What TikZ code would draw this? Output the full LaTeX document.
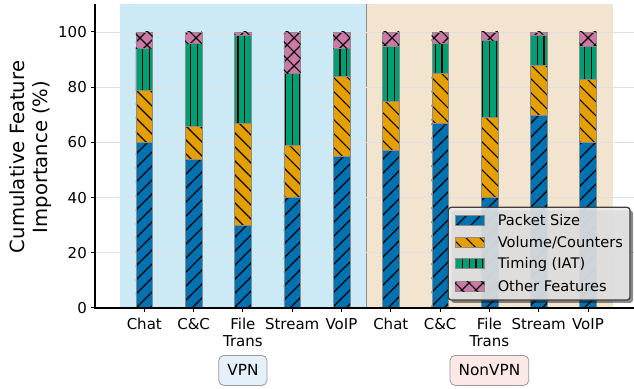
\documentclass[tikz,border=0pt]{standalone}
\usepackage{fontspec}
\setmainfont{DejaVu Sans}
\usetikzlibrary{patterns.meta,positioning}

\definecolor{psblue}{HTML}{0072B2}
\definecolor{vcorange}{HTML}{E69F00}
\definecolor{iatgreen}{HTML}{009E73}
\definecolor{otherpink}{HTML}{CC79A7}
\definecolor{vpnbg}{RGB}{204,233,246}
\definecolor{nonvpnbg}{RGB}{243,228,207}
\definecolor{vpnbox}{RGB}{229,240,251}
\definecolor{nonvpnbox}{RGB}{253,232,232}

\tikzset{
  barbase/.style={draw=black!45, line width=0.4pt, pattern color=black},
  psize/.style={barbase, preaction={fill=psblue},
    pattern={Lines[angle=45,distance=9.9pt,line width=1.1pt]}},
  vcount/.style={barbase, preaction={fill=vcorange},
    pattern={Lines[angle=-45,distance=9.9pt,line width=1.1pt]}},
  timing/.style={barbase, preaction={fill=iatgreen},
    pattern={Lines[angle=90,distance=6.8pt,line width=1.1pt]}},
  other/.style={barbase, preaction={fill=otherpink},
    pattern={Lines[angle=45,distance=9.9pt,line width=1.1pt]},
    postaction={pattern={Lines[angle=-45,distance=9.9pt,line width=1.1pt]}, pattern color=black}},
  axisline/.style={line width=1.3pt, line cap=rect},
  tickline/.style={line width=1pt},
  gridline/.style={black!12, line width=0.8pt},
  ticklab/.style={inner sep=0pt, align=center, font=\fontsize{15}{17.4}\selectfont},
  legtext/.style={inner sep=0pt, text height=10.6pt, text depth=0pt, font=\fontsize{14.6}{17}\selectfont},
  legpatch/.style={minimum width=29.3pt, minimum height=10pt, inner sep=0pt, draw=black!70},
  grouplab/.style={draw=black!40, line width=0.8pt, rounded corners=5pt, inner xsep=8.5pt,
    inner ysep=0pt, minimum height=30pt, font=\fontsize{15.3}{18}\selectfont},
}

\begin{document}
\begin{tikzpicture}[x=1pt, y=1pt]
\useasboundingbox (0,0) rectangle (634,388);

% data area: one unit per bar, one unit per percent
\begin{scope}[shift={(144.3,80)}, x=49.3pt, y=2.76pt]
  \fill[vpnbg] (-0.5,0) rectangle (4.5,110);
  \fill[nonvpnbg] (4.5,0) rectangle (9.5,110);
  \draw[black!45, line width=1.3pt] (4.5,0) -- (4.5,110);
  \foreach \v in {20,40,...,100}
    \draw[gridline] (-1,\v) -- (9.93,\v);

  \foreach \i/\a/\b/\c/\lab in {0/60/79/94/Chat, 1/54/66/96/C\&C, 2/30/67/99/{File\\Trans},
      3/40/59/85/Stream, 4/55/84/94/VoIP, 5/57/75/95/Chat, 6/67/85/96/C\&C,
      7/40/69/97/{File\\Trans}, 8/70/88/99/Stream, 9/60/83/95/VoIP}{
    \draw[psize] (\i-0.17,0) rectangle (\i+0.17,\a);
    \draw[vcount] (\i-0.17,\a) rectangle (\i+0.17,\b);
    \draw[timing] (\i-0.17,\b) rectangle (\i+0.17,\c);
    \draw[other] (\i-0.17,\c) rectangle (\i+0.17,100);
    \draw[tickline] (\i,0) -- ++(0,-4.5pt);
    \node[ticklab, anchor=north, yshift=-10pt] (xl\i) at (\i,0) {\lab};
  }

  \foreach \v in {0,20,...,100}{
    \draw[tickline] (-1,\v) -- ++(-4.5pt,0);
    \node[ticklab, anchor=east, xshift=-8pt] (yl\v) at (-1,\v) {\v};
  }
  \draw[axisline] (-1,110) -- (-1,0) -- (9.93,0);
\end{scope}

\node[rotate=90, align=center, inner sep=0pt, font=\fontsize{19.6}{22.5}\selectfont]
  (ylabel) at (30.6,231) {Cumulative Feature\\Importance (\%)};

% group boxes under the tick labels
\node[grouplab, fill=vpnbox, below=7.6pt of xl2] (vpn) {VPN};
\node[grouplab, fill=nonvpnbox, below=7.6pt of xl7] (nonvpn) {NonVPN};

% legend
\fill[black, opacity=0.45, rounded corners=3pt] (451.3,85) rectangle (633,177.7);
\draw[draw=black!75, line width=1.3pt, fill=black!8, fill opacity=0.88, rounded corners=3pt]
  (448.3,88) rectangle (630,180.7);
\node[legpatch, psize] (lpsize) at (469.7,167.3) {};
\node[legpatch, vcount] (lvcount) at (469.7,145.7) {};
\node[legpatch, timing] (ltiming) at (469.7,124.3) {};
\node[legpatch, other] (lother) at (469.7,101.8) {};
\node[legtext, right=13pt of lpsize] {Packet Size};
\node[legtext, right=13pt of lvcount] {Volume/Counters};
\node[legtext, right=13pt of ltiming] {Timing (IAT)};
\node[legtext, right=13pt of lother] {Other Features};
\end{tikzpicture}
\end{document}
